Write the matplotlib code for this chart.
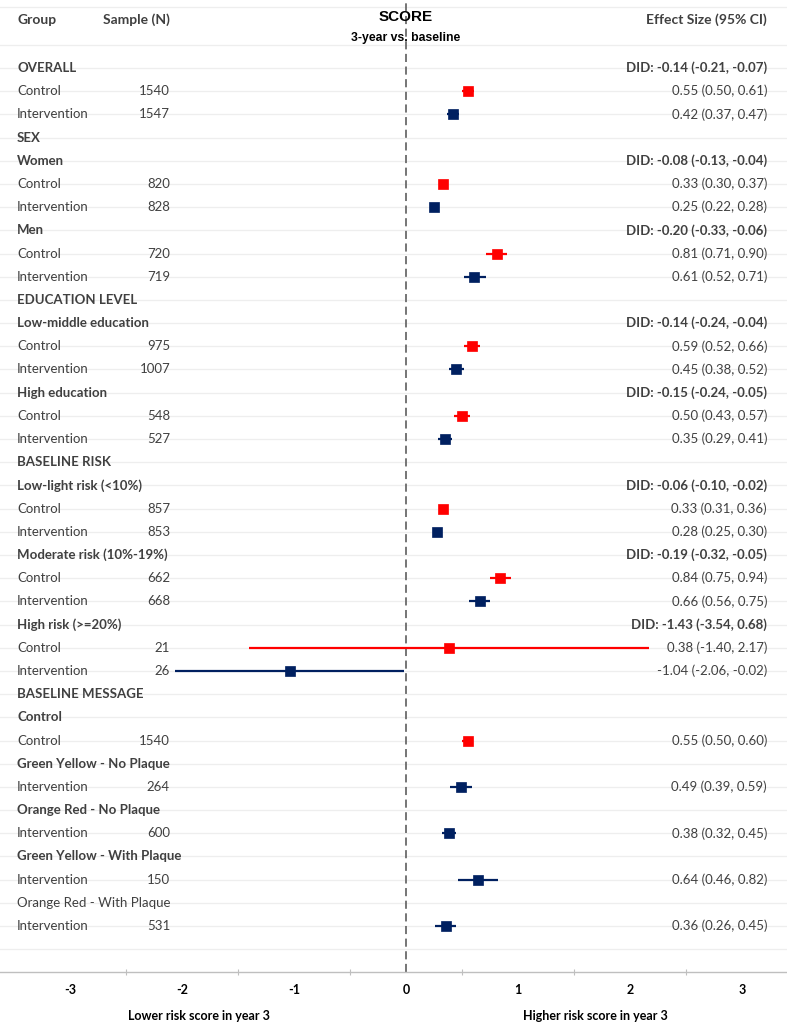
import matplotlib
matplotlib.use("Agg")
import matplotlib.pyplot as plt
import numpy as np

# ---------------- data ----------------
row_labels = [
    "OVERALL", "Control", "Intervention",
    "SEX", "Women", "Control", "Intervention", "Men", "Control", "Intervention",
    "EDUCATION LEVEL", "Low-middle education", "Control", "Intervention",
    "High education", "Control", "Intervention",
    "BASELINE RISK", "Low-light risk (<10%)", "Control", "Intervention",
    "Moderate risk (10%-19%)", "Control", "Intervention",
    "High risk (>=20%)", "Control", "Intervention",
    "BASELINE MESSAGE", "Control", "Control",
    "Green Yellow - No Plaque", "Intervention",
    "Orange Red - No Plaque", "Intervention",
    "Green Yellow - With Plaque", "Intervention",
    "Orange Red - With Plaque", "Intervention",
]
row_bold = [
    1, 0, 0,
    1, 1, 0, 0, 1, 0, 0,
    1, 1, 0, 0,
    1, 0, 0,
    1, 1, 0, 0,
    1, 0, 0,
    1, 0, 0,
    1, 1, 0,
    1, 0,
    1, 0,
    1, 0,
    0, 0,
]
sample_n = [
    None, 1540, 1547,
    None, None, 820, 828, None, 720, 719,
    None, None, 975, 1007,
    None, 548, 527,
    None, None, 857, 853,
    None, 662, 668,
    None, 21, 26,
    None, None, 1540,
    None, 264,
    None, 600,
    None, 150,
    None, 531,
]
arm = [
    None, "C", "I",
    None, None, "C", "I", None, "C", "I",
    None, None, "C", "I",
    None, "C", "I",
    None, None, "C", "I",
    None, "C", "I",
    None, "C", "I",
    None, None, "C",
    None, "I",
    None, "I",
    None, "I",
    None, "I",
]
estimate = [
    None, 0.55, 0.42,
    None, None, 0.33, 0.25, None, 0.81, 0.61,
    None, None, 0.59, 0.45,
    None, 0.50, 0.35,
    None, None, 0.33, 0.28,
    None, 0.84, 0.66,
    None, 0.38, -1.04,
    None, None, 0.55,
    None, 0.49,
    None, 0.38,
    None, 0.64,
    None, 0.36,
]
ci_low = [
    None, 0.50, 0.37,
    None, None, 0.30, 0.22, None, 0.71, 0.52,
    None, None, 0.52, 0.38,
    None, 0.43, 0.29,
    None, None, 0.31, 0.25,
    None, 0.75, 0.56,
    None, -1.40, -2.06,
    None, None, 0.50,
    None, 0.39,
    None, 0.32,
    None, 0.46,
    None, 0.26,
]
ci_high = [
    None, 0.61, 0.47,
    None, None, 0.37, 0.28, None, 0.90, 0.71,
    None, None, 0.66, 0.52,
    None, 0.57, 0.41,
    None, None, 0.36, 0.30,
    None, 0.94, 0.75,
    None, 2.17, -0.02,
    None, None, 0.60,
    None, 0.59,
    None, 0.45,
    None, 0.82,
    None, 0.45,
]
# difference-in-differences shown on subgroup header rows
did_rows = [0, 4, 7, 11, 14, 18, 21, 24]
did_est = [-0.14, -0.08, -0.20, -0.14, -0.15, -0.06, -0.19, -1.43]
did_low = [-0.21, -0.13, -0.33, -0.24, -0.24, -0.10, -0.32, -3.54]
did_high = [-0.07, -0.04, -0.06, -0.04, -0.05, -0.02, -0.05, 0.68]

tick_values = [-3, -2, -1, 0, 1, 2, 3]

# ---------------- style ----------------
W, H = 787, 1025
AXIS_Y = 972        # pixel row of the x axis line
FIRST_ROW = 68.0
ROW_STEP = 23.19
PX_PER_UNIT = 112.0
ZERO_X = 406.0

RED = "#ff0000"
NAVY = "#002060"
TXT = "#404040"
GRID = "#eeeeee"
FONT = "Lato"

fig = plt.figure(figsize=(W / 100, H / 100), dpi=100)
ax = fig.add_axes([0, (H - AXIS_Y) / H, 1, AXIS_Y / H])
ax.set_xlim(-ZERO_X / PX_PER_UNIT, (W - ZERO_X) / PX_PER_UNIT)
ax.set_ylim(AXIS_Y, 0)

def px2x(px):
    return (px - ZERO_X) / PX_PER_UNIT

n_rows = len(row_labels)
row_y = FIRST_ROW + ROW_STEP * np.arange(n_rows)

# gridlines
grid_ys = [7] + list(FIRST_ROW + ROW_STEP * np.arange(-1, n_rows + 1))
for gy in grid_ys:
    ax.axhline(gy, color=GRID, lw=0.9, zorder=0)

# zero line
ax.axvline(0, color="#6a6a6a", lw=1.3, ls=(0, (4.5, 2.5)), zorder=1)

# header
ax.text(px2x(17), 20, "Group", fontsize=10, fontweight="bold", color=TXT,
        va="center", ha="left", family=FONT)
ax.text(px2x(170), 20, "Sample (N)", fontsize=10, fontweight="bold", color=TXT,
        va="center", ha="right", family=FONT)
ax.text(px2x(767), 20, "Effect Size (95% CI)", fontsize=10, fontweight="bold",
        color=TXT, va="center", ha="right", family=FONT)
ax.text(0, 17, "SCORE", fontsize=11, fontweight="bold", color="black",
        va="center", ha="center", family="Liberation Sans")
ax.text(0, 38, "3-year vs. baseline", fontsize=8.8, fontweight="bold", color="black",
        va="center", ha="center", family="Liberation Sans")

# rows
for i in range(n_rows):
    y = row_y[i]
    ax.text(px2x(17), y, row_labels[i], fontsize=9.5, color=TXT, va="center",
            ha="left", family=FONT, fontweight="bold" if row_bold[i] else "normal")
    if sample_n[i] is not None:
        ax.text(px2x(170), y, str(sample_n[i]), fontsize=9.5, color=TXT,
                va="center", ha="right", family=FONT)
    if estimate[i] is not None:
        col = RED if arm[i] == "C" else NAVY
        ax.plot([ci_low[i], ci_high[i]], [y, y], color=col, lw=1.6,
                solid_capstyle="butt", zorder=3)
        ax.plot([estimate[i]], [y], marker="s", ms=7.2, color=col,
                mec=col, mew=0.5, zorder=4)
        ax.text(px2x(767), y,
                f"{estimate[i]:.2f} ({ci_low[i]:.2f}, {ci_high[i]:.2f})",
                fontsize=9.5, color=TXT, va="center", ha="right", family=FONT)

for r, e, lo, hi in zip(did_rows, did_est, did_low, did_high):
    ax.text(px2x(767), row_y[r], f"DID: {e:.2f} ({lo:.2f}, {hi:.2f})",
            fontsize=9.5, fontweight="bold", color=TXT, va="center",
            ha="right", family=FONT)

# x axis
for s in ["top", "left", "right"]:
    ax.spines[s].set_visible(False)
ax.spines["bottom"].set_color("#bfbfbf")
ax.spines["bottom"].set_linewidth(1.0)
ax.set_yticks([])
ax.set_xticks(tick_values)
ax.set_xticklabels([str(v) for v in tick_values], fontweight="bold",
                   fontsize=9, color="black", family=FONT)
ax.tick_params(axis="x", which="major", length=0, pad=9)
ax.set_xticks(np.array(tick_values[:-1]) + 0.5, minor=True)
ax.tick_params(axis="x", which="minor", length=5, direction="inout",
               color="#bfbfbf", width=0.8)

fig.text(199 / W, 1 - 1016 / H, "Lower risk score in year 3", fontsize=9,
         fontweight="bold", color="black", ha="center", va="center", family=FONT)
fig.text(595 / W, 1 - 1016 / H, "Higher risk score in year 3", fontsize=9,
         fontweight="bold", color="black", ha="center", va="center", family=FONT)

fig.savefig("out.png", dpi=100, facecolor="white")
